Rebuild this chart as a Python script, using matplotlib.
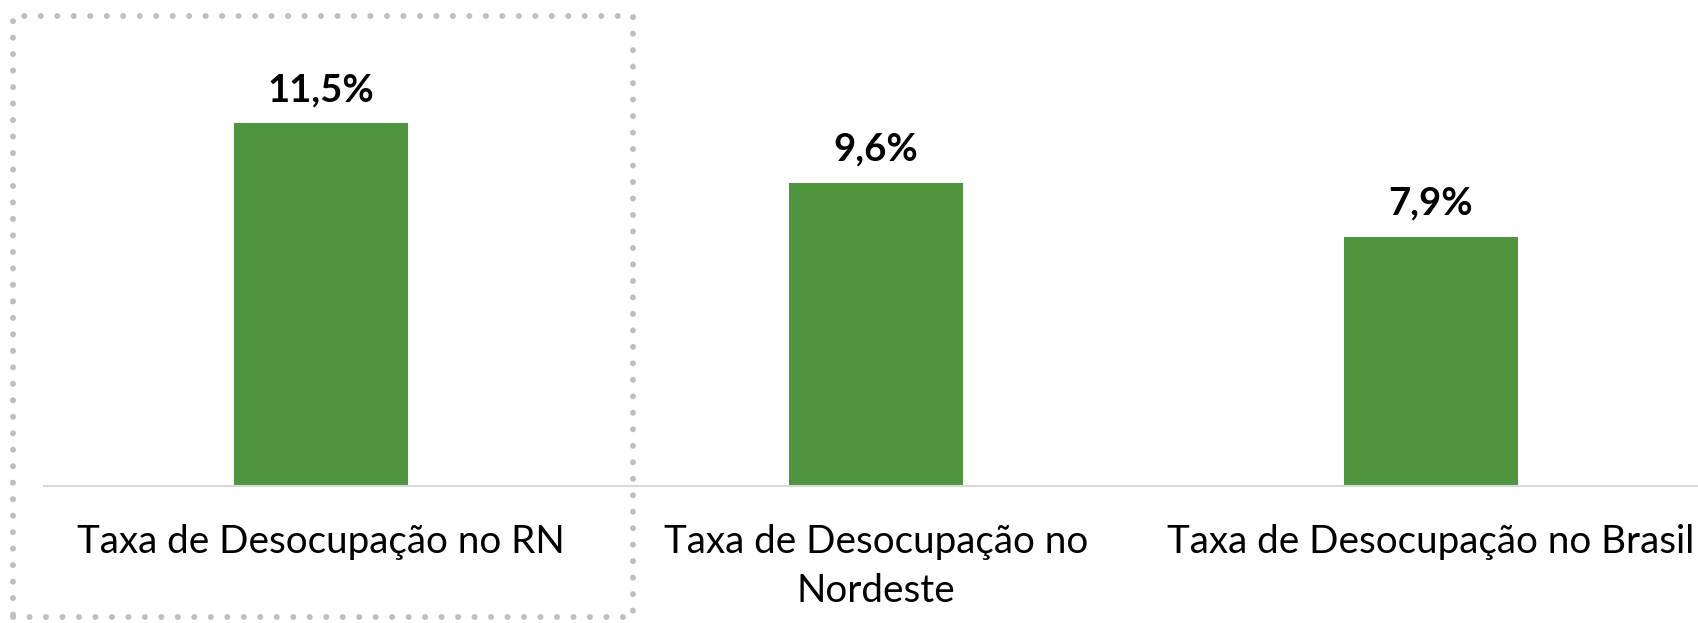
import matplotlib.pyplot as plt
from matplotlib.lines import Line2D

# dados
categorias = ["Taxa de Desocupação no RN", "Taxa de Desocupação no\nNordeste", "Taxa de Desocupação no Brasil"]
valores = [11.5, 9.6, 7.9]
rotulos = ["11,5%", "9,6%", "7,9%"]

plt.rcParams['font.family'] = ['Lato', 'DejaVu Sans']

W, H = 1699, 623
fig = plt.figure(figsize=(W / 100, H / 100), dpi=100)

# eixo: linha base em y=486px, categorias espaçadas 555px
left = 43.5 / W
ax = fig.add_axes([left, (H - 486) / H, 1 - left, 441.6 / H])
ax.bar(range(len(valores)), valores, width=0.313, color='#4f943f')
ax.set_xlim(-0.5, -0.5 + (W - 43.5) / 555)
ax.set_ylim(0, 14)

for s in ['top', 'right', 'left']:
    ax.spines[s].set_visible(False)
ax.spines['bottom'].set_color('#d9d9d9')
ax.spines['bottom'].set_linewidth(1.5)
ax.set_yticks([])
ax.set_xticks(range(len(categorias)))
ax.set_xticklabels(categorias, fontsize=27.8, color='black', linespacing=1.45)
ax.tick_params(axis='x', length=0, pad=27)

for i, v in enumerate(valores):
    ax.annotate(rotulos[i], (i, v), xytext=(0, 16), textcoords='offset points',
                ha='center', va='baseline', fontsize=27.5, fontweight='bold')

# caixa pontilhada em volta do RN
x0, x1 = 13.5 / W, 633 / W
y0, y1 = 1 - 617 / H, 1 - 16 / H
caixa = Line2D([x0, x1, x1, x0, x0], [y0, y0, y1, y1, y0], transform=fig.transFigure,
               color='#bfbfbf', linewidth=4.3, linestyle=(0, (0.01, 2.75)),
               dash_capstyle='round')
fig.add_artist(caixa)

fig.savefig('out.png', dpi=100)
